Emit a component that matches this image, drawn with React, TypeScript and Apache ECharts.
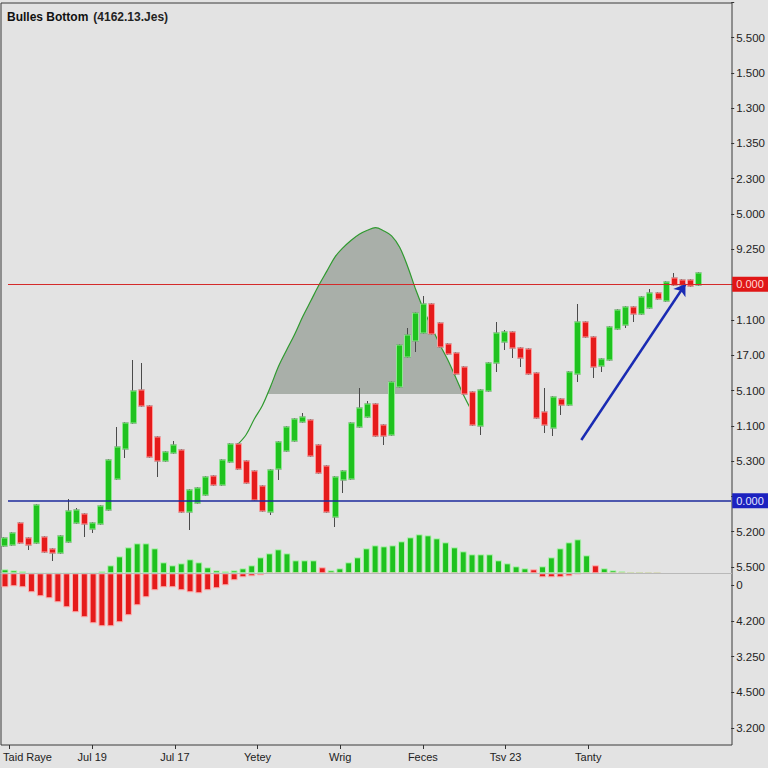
import React, { useEffect, useRef } from 'react';
import * as echarts from 'echarts';

// ---------- texts ----------
const titleMain = 'Bulles Bottom';
const titleSub = '(4162.13.Jes)';
const xLabels = ['Taid Raye', 'Jul 19', 'Jul 17', 'Yetey', 'Wrig', 'Feces', 'Tsv 23', 'Tanty'];
// right price axis, tick index counted from the bottom tick
const priceLabels = ['5.500', '5.200', '', '5.300', '1.100', '5.100', '17.00', '1.100', '', '9.250', '5.000', '2.300', '1.350', '1.300', '1.500', '5.500', ''];
// lower (oscillator) axis, tick index counted from the bottom tick
const lowerLabels = ['3.200', '4.500', '3.250', '4.200', '0'];
const levelLabel = '0.000';

// ---------- price scale ----------
const priceTick = 35.3;
const priceMax = 564.8;
const candleSlots = 90;

// ---------- candles ----------
const opens = [21, 22, 44, 29, 24, 30, 18, 14, 25, 44, 53, 38, 43, 57, 88, 118, 144, 177, 161, 130, 106, 114, 117, 55, 64, 72, 91, 82, 105, 123, 106, 96, 81, 55, 98, 116, 126, 145, 147, 122, 101, 50, 87, 88, 140, 150, 163, 142, 132, 180, 210, 226, 234, 263, 244, 223, 214, 200, 175, 141, 176, 204, 225, 235, 219, 218, 194, 155, 139, 168, 162, 193, 245, 230, 201, 207, 238, 242, 260, 253, 259, 274, 266, 289, 287, 287, 282];
const closes = [29, 34, 24, 22, 62, 15, 14, 31, 56, 57, 43, 44, 61, 107, 120, 144, 176, 161, 110, 106, 115, 122, 55, 77, 79, 90, 82, 107, 123, 98, 84, 67, 56, 97, 125, 140, 148, 150, 111, 94, 55, 90, 96, 144, 159, 163, 131, 131, 185, 222, 232, 254, 263, 233, 220, 213, 193, 173, 142, 177, 204, 234, 235, 219, 209, 193, 149, 142, 170, 162, 195, 245, 230, 200, 208, 240, 257, 260, 253, 270, 274, 268, 285, 282, 282, 281, 294];
const highs = [30, 35, 45, 30, 63, 31, 19, 32, 68, 59, 54, 45, 62, 108, 140, 145, 207, 204, 162, 131, 116, 126, 118, 78, 80, 91, 92, 108, 124, 124, 107, 97, 82, 98, 126, 141, 149, 154, 148, 123, 102, 91, 97, 145, 179, 166, 164, 143, 186, 223, 239, 255, 271, 264, 245, 224, 215, 201, 176, 178, 205, 245, 237, 236, 220, 219, 195, 179, 171, 169, 196, 263, 246, 231, 209, 241, 258, 261, 261, 271, 278, 275, 286, 294, 288, 288, 295];
const lows = [20, 21, 23, 17, 23, 14, 6, 13, 24, 43, 30, 34, 42, 56, 87, 109, 143, 160, 109, 90, 105, 113, 54, 37, 63, 71, 81, 81, 104, 97, 83, 66, 55, 52, 87, 115, 125, 144, 110, 93, 54, 40, 74, 87, 139, 149, 130, 122, 131, 179, 209, 215, 233, 232, 219, 212, 192, 172, 141, 132, 175, 195, 217, 209, 200, 192, 148, 134, 131, 152, 161, 185, 229, 189, 195, 206, 237, 239, 245, 252, 258, 267, 265, 281, 281, 280, 281];

// ---------- bell-shaped pattern curve ----------
const curveX = [29, 30, 31, 32, 33, 34, 35, 36, 37, 38, 39, 40, 41, 42, 43, 44, 45, 46, 47, 48, 49, 50, 51, 52, 53, 54, 55, 56, 57, 58];
const curveY = [123, 132.5, 148, 161.5, 180.2, 200.7, 217, 232.8, 250.5, 266.2, 282, 296.1, 310.2, 319.4, 326.8, 332.8, 336.7, 339.3, 336.3, 331.1, 319.7, 300.3, 277.2, 256.8, 239.3, 222.1, 206.5, 188.5, 170.5, 155];
const fillBase = 173;
const fillX = [32.6, 33, 34, 35, 36, 37, 38, 39, 40, 41, 42, 43, 44, 45, 46, 47, 48, 49, 50, 51, 52, 53, 54, 55, 56, 56.9];
const fillY = [173, 180.2, 200.7, 217, 232.8, 250.5, 266.2, 282, 296.1, 310.2, 319.4, 326.8, 332.8, 336.7, 339.3, 336.3, 331.1, 319.7, 300.3, 277.2, 256.8, 239.3, 222.1, 206.5, 188.5, 173];

// ---------- levels and arrow ----------
const resistance = 282.7;
const support = 66.3;
const arrowFrom = [71.5, 127];
const arrowTo = [84.4, 283];

// ---------- oscillator histogram ----------
const histSlots = 83;
const histGreen = [4, 3, 2, 0, 0, 0, 0, 0, 0, 0, 0, 2, 8, 17, 26, 30, 30, 25, 11, 8, 10, 14, 11, 6, 3, 2, 3, 5, 8, 16, 20, 24, 20, 13, 13, 13, 0, 3, 5, 11, 16, 25, 28, 27, 28, 32, 36, 39, 38, 35, 31, 26, 22, 19, 19, 19, 13, 10, 7, 5, 0, 7, 16, 25, 31, 34, 18, 0, 5, 3, 2, 1.3, 1.3, 0.8, 0.5];
const histRed = [-14, -13, -14, -19, -23, -25, -29, -34, -39, -44, -50, -53, -53, -49, -42, -32, -24, -17, -14, -14, -17, -19, -20, -17, -15, -12, -7, -4, -3, -2, 0, 0, 0, 0, 0, 0, 6, 0, 0, 0, 0, 0, 0, 0, 0, 0, 0, 0, 0, 0, 0, 0, 0, 0, 0, 0, 0, 0, 0, 0, 4, -4, -4, -4, -3, -1, 0, 8, 0, 0, 0, 0, 0, 0, 0];

const FONT = '"Liberation Sans", Arial, sans-serif';
const BG = '#e3e3e3';
const UP = '#1fc21f';
const DOWN = '#e51b1b';

export default function App() {
  const ref = useRef<HTMLDivElement>(null);
  useEffect(() => {
    if (!ref.current) return;
    const chart = echarts.init(ref.current, null, { renderer: 'svg' });
    const cats = Array.from({ length: candleSlots }, (_, i) => String(i));
    const hcats = Array.from({ length: histSlots }, (_, i) => String(i));
    const wickData = opens.map((o, i) => [o, closes[i], lows[i], highs[i]]);
    const bodyData = opens.map((o, i) => [o, closes[i], Math.min(o, closes[i]), Math.max(o, closes[i])]);
    const curveData = curveX.map((x, i) => [x, curveY[i]]);
    const fillData = fillX.map((x, i) => [x, fillY[i]]);
    const hidden = { show: false };

    chart.setOption({
      animation: false,
      backgroundColor: BG,
      textStyle: { fontFamily: FONT },
      title: {
        left: 7,
        top: 8,
        padding: 0,
        text: `{b|${titleMain}} {n|${titleSub}}`,
        textStyle: {
          rich: {
            b: { fontWeight: 'bold', fontSize: 12, color: '#111', fontFamily: FONT },
            n: { fontSize: 12, color: '#222', fontFamily: FONT },
          },
        },
      },
      grid: [
        { left: 1, top: 3, width: 731, height: 742, show: true, borderColor: '#3a3a3a', borderWidth: 1, backgroundColor: 'transparent' },
        { left: -2.35, top: 2.2, width: 729, height: priceMax },
        { left: 8, top: 2.2, width: 724, height: priceMax },
        { left: 0.6, top: 520, width: 731.4, height: 120 },
        { left: 8, top: 585, width: 724, height: 143 },
        { left: 9.53, top: 3, width: 578.7, height: 742 },
      ],
      xAxis: [
        { gridIndex: 0, type: 'value', ...hidden },
        { gridIndex: 1, type: 'category', data: cats, ...hidden },
        { gridIndex: 1, type: 'value', min: -0.5, max: candleSlots - 0.5, ...hidden },
        { gridIndex: 2, type: 'value', min: 1, max: 2, ...hidden },
        { gridIndex: 3, type: 'category', data: hcats, ...hidden },
        { gridIndex: 4, type: 'value', min: 1, max: 2, ...hidden },
        {
          gridIndex: 5,
          type: 'value',
          position: 'bottom',
          min: 0,
          max: xLabels.length - 1,
          interval: 1,
          axisLine: { show: false, onZero: false },
          splitLine: { show: false },
          axisTick: { show: true, length: 4, lineStyle: { color: '#333' } },
          axisLabel: {
            margin: 6,
            fontSize: 11,
            color: '#222',
            fontFamily: FONT,
            formatter: (v: number) => {
              const i = Math.round(v);
              return i === 0 ? `{first|${xLabels[0]}}` : xLabels[i] ?? '';
            },
            rich: { first: { padding: [0, 0, 0, 36], fontSize: 11, color: '#222', fontFamily: FONT } },
          },
        },
      ],
      yAxis: [
        { gridIndex: 0, type: 'value', ...hidden },
        { gridIndex: 1, type: 'value', min: 0, max: priceMax, ...hidden },
        {
          gridIndex: 2,
          type: 'value',
          position: 'right',
          min: 0,
          max: priceMax,
          interval: priceTick,
          axisLine: { show: false, onZero: false },
          splitLine: { show: false },
          axisTick: { show: true, length: 3, lineStyle: { color: '#333' } },
          axisLabel: {
            margin: 5,
            fontSize: 11.5,
            color: '#222',
            fontFamily: FONT,
            formatter: (v: number) => priceLabels[Math.round(v / priceTick)] ?? '',
          },
        },
        { gridIndex: 3, type: 'value', min: -66.7, max: 53.3, ...hidden },
        {
          gridIndex: 4,
          type: 'value',
          position: 'right',
          min: 0,
          max: lowerLabels.length - 1,
          interval: 1,
          axisLine: { show: false, onZero: false },
          splitLine: { show: false },
          axisTick: { show: true, length: 3, lineStyle: { color: '#333' } },
          axisLabel: {
            margin: 5,
            fontSize: 11.5,
            color: '#222',
            fontFamily: FONT,
            formatter: (v: number) => lowerLabels[Math.round(v)] ?? '',
          },
        },
        { gridIndex: 5, type: 'value', min: 1, max: 2, ...hidden },
      ],
      series: [
        {
          type: 'line',
          xAxisIndex: 2,
          yAxisIndex: 1,
          data: fillData,
          smooth: 0.35,
          symbol: 'none',
          silent: true,
          lineStyle: { width: 0, opacity: 0 },
          areaStyle: { color: '#a9afa9', opacity: 1, origin: fillBase },
          z: 1,
        },
        {
          type: 'line',
          xAxisIndex: 2,
          yAxisIndex: 1,
          data: curveData,
          smooth: 0.35,
          symbol: 'none',
          silent: true,
          lineStyle: { color: '#2f9a2f', width: 1.2 },
          z: 2,
          markLine: {
            silent: true,
            symbol: ['none', 'arrow'],
            symbolSize: 11,
            label: { show: false },
            lineStyle: { color: '#1a2bb3', width: 2.5, type: 'solid' },
            data: [[{ coord: arrowFrom }, { coord: arrowTo }]],
          },
        },
        {
          type: 'candlestick',
          xAxisIndex: 1,
          yAxisIndex: 1,
          data: wickData,
          barWidth: 6.5,
          silent: true,
          itemStyle: { color: 'transparent', color0: 'transparent', borderColor: '#4a4a4a', borderColor0: '#4a4a4a', borderWidth: 1 },
          z: 3,
        },
        {
          type: 'candlestick',
          xAxisIndex: 1,
          yAxisIndex: 1,
          data: bodyData,
          barWidth: 6.5,
          silent: true,
          itemStyle: { color: UP, color0: DOWN, borderColor: '#8de88d', borderColor0: '#ff9c9c', borderWidth: 1 },
          z: 4,
        },
        {
          type: 'bar',
          xAxisIndex: 4,
          yAxisIndex: 3,
          data: histGreen,
          barWidth: 7,
          barGap: '-100%',
          silent: true,
          itemStyle: { color: UP, borderColor: '#b7f3b7', borderWidth: 1 },
          markLine: {
            silent: true,
            symbol: ['none', 'none'],
            label: { show: false },
            lineStyle: { color: '#b9b9b9', width: 1, type: 'solid' },
            data: [{ yAxis: 0 }],
          },
          z: 2,
        },
        {
          type: 'bar',
          xAxisIndex: 4,
          yAxisIndex: 3,
          data: histRed,
          barWidth: 7,
          barGap: '-100%',
          silent: true,
          itemStyle: { color: DOWN, borderColor: '#ffb3b3', borderWidth: 1 },
          z: 2,
        },
        {
          type: 'line',
          xAxisIndex: 3,
          yAxisIndex: 2,
          data: [],
          silent: true,
          z: 5,
          markLine: {
            silent: true,
            symbol: ['none', 'none'],
            data: [
              {
                yAxis: resistance,
                lineStyle: { color: '#d42a2a', width: 1.2, type: 'solid' },
                label: { show: true, position: 'end', distance: 1, formatter: levelLabel, backgroundColor: '#e01616', color: '#ffd6d6', padding: [2, 6, 2, 4], fontSize: 11, fontFamily: FONT },
              },
              {
                yAxis: support,
                lineStyle: { color: '#1d2a9c', width: 1.5, type: 'solid' },
                label: { show: true, position: 'end', distance: 1, formatter: levelLabel, backgroundColor: '#1c22c0', color: '#e6e8ff', padding: [2, 6, 2, 4], fontSize: 11, fontFamily: FONT },
              },
            ],
          },
        },
      ],
    });
    return () => chart.dispose();
  }, []);
  return <div ref={ref} style={{ position: 'fixed', left: 0, top: 0, width: 768, height: 768 }} />;
}
